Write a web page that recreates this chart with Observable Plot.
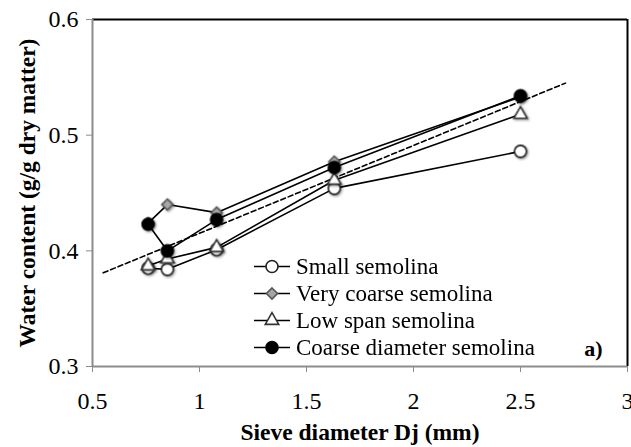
<!DOCTYPE html>
<html>
<head>
<meta charset="utf-8">
<script src="https://cdn.jsdelivr.net/npm/d3@7"></script>
<script src="https://cdn.jsdelivr.net/npm/@observablehq/plot@0.6"></script>
<style>
  html, body { margin: 0; padding: 0; background: #fff; }
  #wrap { position: relative; width: 631px; height: 447px; font-family: "Liberation Serif", "Times New Roman", serif; }
  #legend { position: absolute; left: 252px; top: 253px; }
  .row { display: flex; align-items: center; height: 27px; font-size: 23px; white-space: nowrap; }
  .row svg { display: block; margin-right: 4px; }
</style>
</head>
<body>
<div id="wrap"><div id="legend"></div></div>
<script>
// ---- data ----
const sieve = [0.76, 0.85, 1.08, 1.63, 2.5];
const seriesNames = ["Small semolina", "Very coarse semolina", "Low span semolina", "Coarse diameter semolina"];
const smallSemolina = [0.385, 0.384, 0.401, 0.454, 0.486];
const veryCoarseSemolina = [0.424, 0.440, 0.433, 0.477, 0.533];
const lowSpanSemolina = [0.387, 0.393, 0.403, 0.461, 0.518];
const coarseDiameterSemolina = [0.423, 0.400, 0.427, 0.472, 0.534];
const trendX = [0.55, 2.71];
const trendY = [0.381, 0.545];
const xTicks = [0.5, 1, 1.5, 2, 2.5, 3];
const yTicks = [0.3, 0.4, 0.5, 0.6];
const xTitle = "Sieve diameter Dj (mm)";
const yTitle = "Water content (g/g dry matter)";
const panelTag = "a)";

// ---- styling ----
const seriesValues = [smallSemolina, veryCoarseSemolina, lowSpanSemolina, coarseDiameterSemolina];
const styles = [
  {symbol: "circle", r: 6, fill: "white", stroke: "#222"},
  {symbol: "diamond2", r: 5, fill: "#a6a6a6", stroke: "#555"},
  {symbol: "triangle", r: 5, fill: "white", stroke: "#333"},
  {symbol: "circle", r: 6, fill: "black", stroke: "black"}
];

const rows = seriesNames.map((name, i) => sieve.map((x, j) => ({series: name, x, y: seriesValues[i][j]})));
const trend = trendX.map((x, i) => ({x, y: trendY[i]}));

const seriesMarks = rows.flatMap((data, i) => [
  Plot.line(data, {x: "x", y: "y", stroke: "black", strokeWidth: 1.6}),
  Plot.dot(data, {x: "x", y: "y", symbol: () => styles[i].symbol, r: styles[i].r, fill: styles[i].fill, stroke: styles[i].stroke, strokeWidth: 1.6})
]);

const chart = Plot.plot({
  width: 631,
  height: 447,
  marginLeft: 92,
  marginRight: 4,
  marginTop: 19,
  marginBottom: 81,
  style: {fontFamily: "'Liberation Serif', 'Times New Roman', serif", fontSize: "24px", color: "black", background: "white"},
  x: {domain: [0.5, 3], label: null},
  y: {domain: [0.3, 0.6], label: null},
  marks: [
    Plot.ruleY([0.6], {stroke: "black", strokeWidth: 2}),
    Plot.ruleX([3], {stroke: "black", strokeWidth: 2}),
    Plot.ruleX([0.5], {stroke: "#8c8c8c", strokeWidth: 2}),
    Plot.ruleY([0.3], {stroke: "#8c8c8c", strokeWidth: 2}),
    Plot.axisX({ticks: xTicks, tickSize: 6, tickPadding: 19, stroke: "#8c8c8c", fill: "black", fontSize: 24, label: null, tickFormat: d => String(d)}),
    Plot.axisY({ticks: yTicks, tickSize: 6, tickPadding: 8, stroke: "#8c8c8c", fill: "black", fontSize: 24, label: null, tickFormat: d3.format(".1f")}),
    Plot.line(trend, {x: "x", y: "y", stroke: "black", strokeWidth: 1.6, strokeDasharray: "5,3"}),
    ...seriesMarks,
    Plot.text([xTitle], {frameAnchor: "bottom", textAnchor: "middle", lineAnchor: "middle", dy: 66, fontWeight: "bold", fontSize: 23.5, fill: "black"}),
    Plot.text([yTitle], {frameAnchor: "left", textAnchor: "middle", lineAnchor: "middle", rotate: -90, dx: -65, fontWeight: "bold", fontSize: 23.5, fill: "black"}),
    Plot.text([panelTag], {frameAnchor: "bottom-right", textAnchor: "middle", lineAnchor: "middle", dx: -34, dy: -18, fontWeight: "bold", fontSize: 22, fill: "black"})
  ]
});

// subtle marker shadow like the original
const svg = d3.select(chart);
const defs = svg.insert("defs", ":first-child");
defs.append("filter").attr("id", "msh").attr("x", "-50%").attr("y", "-50%").attr("width", "200%").attr("height", "200%")
  .append("feDropShadow").attr("dx", 1.2).attr("dy", 1.2).attr("stdDeviation", 1.2).attr("flood-color", "#000").attr("flood-opacity", 0.4);
svg.selectAll("g[aria-label='dot']").attr("filter", "url(#msh)");

const wrap = document.getElementById("wrap");
wrap.insertBefore(chart, wrap.firstChild);

// legend
const legend = d3.select("#legend");
seriesNames.forEach((name, i) => {
  const row = legend.append("div").attr("class", "row");
  const s = row.append("svg").attr("width", 40).attr("height", 27);
  s.append("line").attr("x1", 2).attr("x2", 38).attr("y1", 13.5).attr("y2", 13.5).attr("stroke", "black").attr("stroke-width", 1.6);
  const st = styles[i];
  const symType = st.symbol === "diamond2" ? d3.symbolDiamond2 : st.symbol === "triangle" ? d3.symbolTriangle : d3.symbolCircle;
  s.append("path").attr("transform", "translate(20,13.5)")
    .attr("d", d3.symbol(symType, Math.PI * st.r * st.r)())
    .attr("fill", st.fill).attr("stroke", st.stroke).attr("stroke-width", 1.6);
  row.append("span").text(name);
});
</script>
</body>
</html>
